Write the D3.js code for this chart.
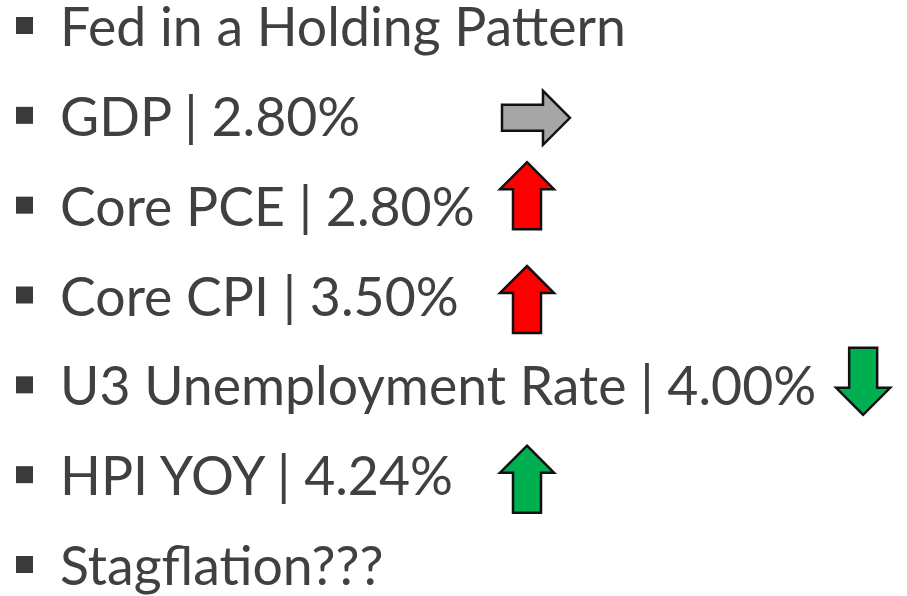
<!DOCTYPE html>
<html>
<head>
<meta charset="utf-8">
<script src="https://cdn.jsdelivr.net/npm/d3@7"></script>
<style>
	body { margin: 0; background: #fff; }
	text { font-family: Lato, 'Open Sans', sans-serif; }
</style>
</head>
<body>
<script>
const width = 907
const height = 596

// slide content
const labels = ['Fed in a Holding Pattern', 'GDP', 'Core PCE', 'Core CPI', 'U3 Unemployment Rate', 'HPI YOY', 'Stagflation???']
const values = [null, '2.80%', '2.80%', '3.50%', '4.00%', '4.24%', null]
const trends = [null, 'flat', 'up', 'up', 'down', 'up', null]
const trendColors = [null, '#a6a6a6', '#ff0000', '#ff0000', '#00b050', '#00b050', null]

const textColor = '#404040'

// how far each arrow sits above the text baseline (as placed on the slide)
const arrowLift = { 'GDP': 18, 'Core PCE': 30, 'Core CPI': 16, 'U3 Unemployment Rate': 24, 'HPI YOY': 16 }

const rows = labels.map((l, i) => ({
	label: l,
	text: values[i] ? `${l} | ${values[i]}` : l,
	trend: trends[i],
	color: trendColors[i]
}))

const yScale = d3.scalePoint()
	.domain(d3.range(rows.length))
	.range([46, 585])

const svg = d3.select('body')
	.append('svg')
	.attr('width', width)
	.attr('height', height)

// fit font so the first line spans the same width as the slide
const probe = svg.append('text').attr('font-size', 100).text(rows[0].text)
const fontSize = 100 * 566 / probe.node().getComputedTextLength()
probe.remove()

const row = svg.selectAll('.row')
	.data(rows)
	.enter()
	.append('g')
	.attr('class', 'row')
	.attr('transform', (d, i) => `translate(0,${yScale(i)})`)

row.append('rect')
	.attr('x', 16)
	.attr('y', -29)
	.attr('width', 17)
	.attr('height', 17)
	.attr('fill', '#3a3a3a')

row.append('text')
	.attr('x', 60)
	.attr('y', 0)
	.attr('font-size', fontSize)
	.attr('fill', textColor)
	.text(d => d.text)

// block arrows
const upArrow = 'M0,-33.5 L27,-6.5 L14,-6.5 L14,33.5 L-14,33.5 L-14,-6.5 L-27,-6.5 Z'
const rightArrow = 'M34,0 L7,-27 L7,-13 L-34,-13 L-34,13 L7,13 L7,27 Z'

row.filter(d => d.trend)
	.each(function (d) {
		const g = d3.select(this)
		const textEnd = 60 + g.select('text').node().getComputedTextLength()
		const cx = d.trend === 'flat'
			? Math.max(502, textEnd + 20) + 34
			: Math.max(500, textEnd + 20) + 27
		const rot = d.trend === 'down' ? 180 : 0
		g.append('path')
			.attr('d', d.trend === 'flat' ? rightArrow : upArrow)
			.attr('transform', `translate(${cx},${-arrowLift[d.label]}) rotate(${rot})`)
			.attr('fill', d.color)
			.attr('stroke', '#111')
			.attr('stroke-width', 2.5)
			.attr('stroke-linejoin', 'miter')
	})
</script>
</body>
</html>
